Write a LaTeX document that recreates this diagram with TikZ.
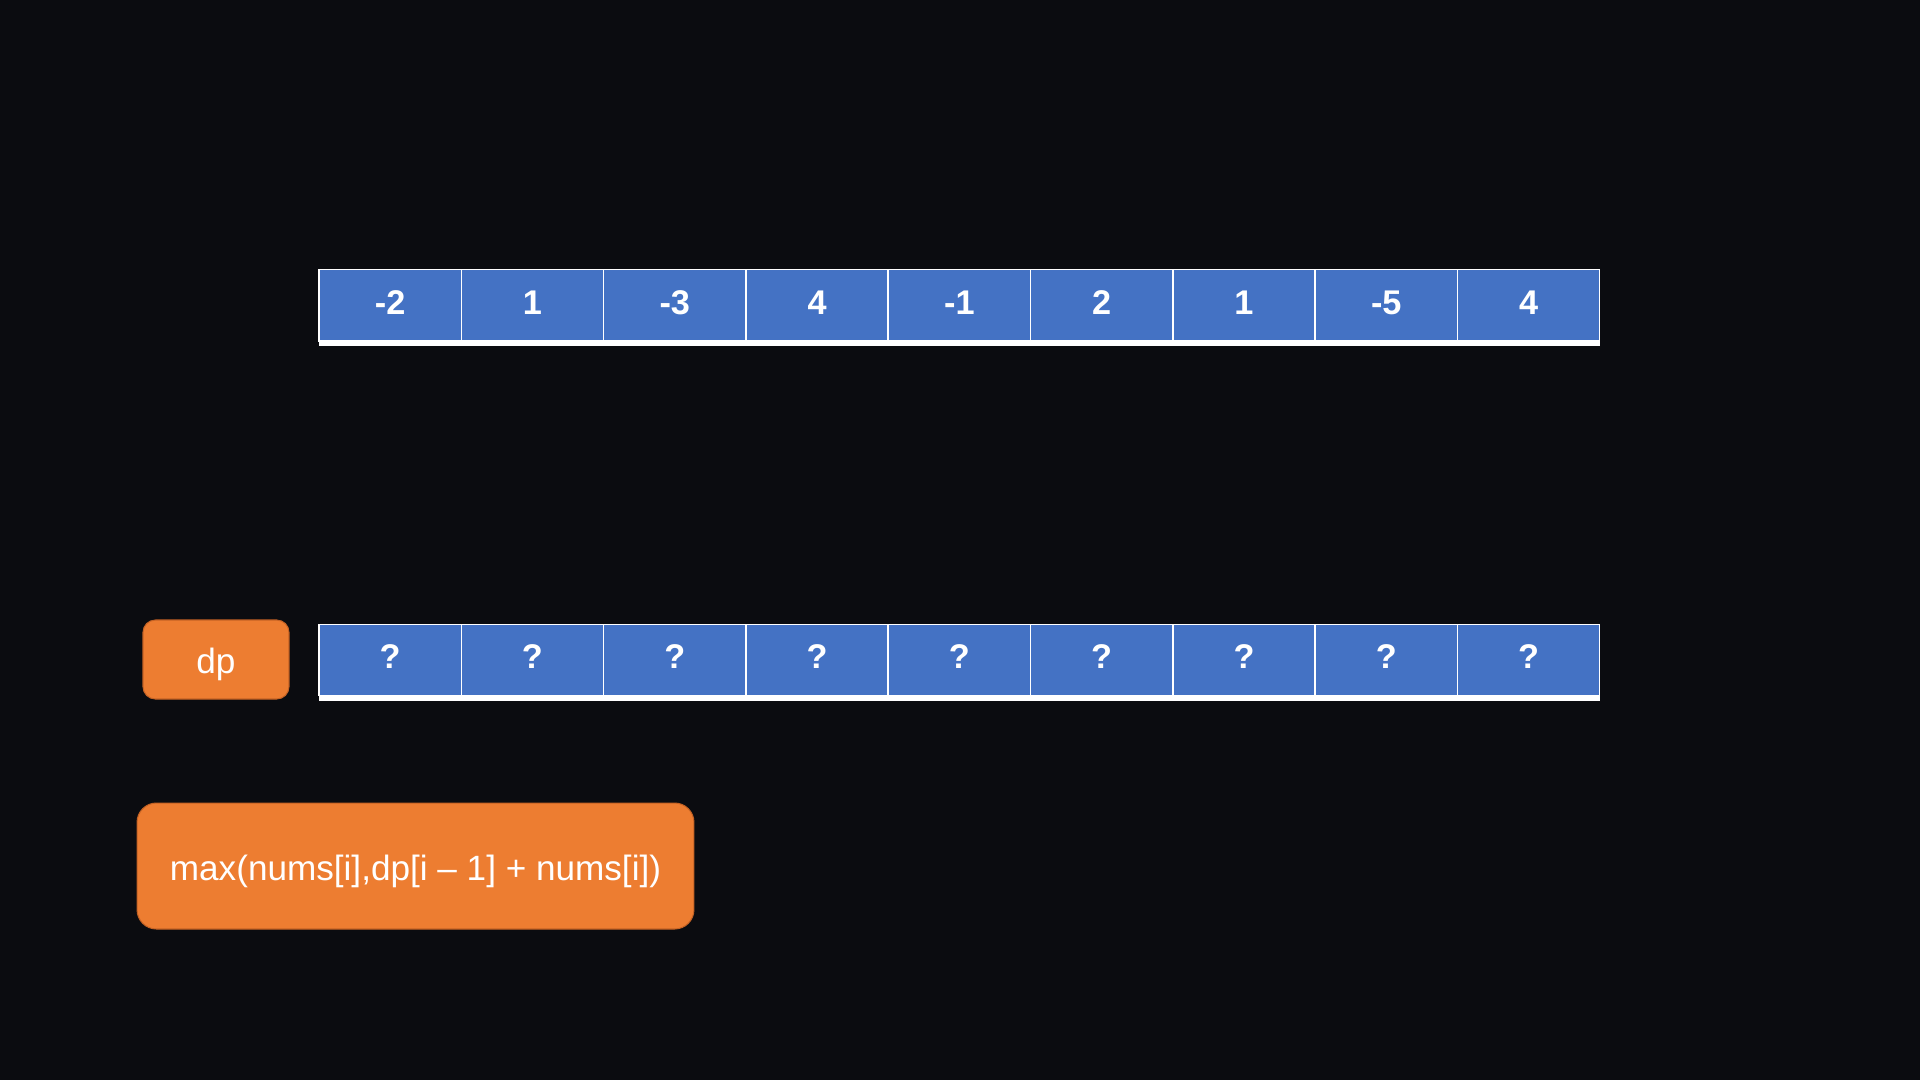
\documentclass[tikz,border=0pt]{standalone}
\usepackage{fontspec}
\setmainfont{Liberation Sans}
\usepackage{xcolor}
\usetikzlibrary{positioning}
\definecolor{bgblack}{RGB}{11,12,16}
\definecolor{cellblue}{RGB}{68,114,196}
\definecolor{boxorange}{RGB}{237,125,49}
\definecolor{edgeorange}{RGB}{196,98,36}

\begin{document}
\begin{tikzpicture}[x=0.02cm, y=-0.02cm,
  cell/.style={draw=white,line width=0.8pt,fill=cellblue,minimum width=2.846cm,minimum height=1.43cm,
    inner sep=0pt,outer sep=0pt,text=white,text height=14pt,text depth=4pt,
    font=\fontsize{19.5}{21}\selectfont\bfseries},
  tag/.style={draw=edgeorange,line width=0.6pt,fill=boxorange,inner sep=0pt,text=white,
    text height=20pt,text depth=4pt,font=\fontsize{20}{22}\selectfont},
  base/.style={draw=white,line width=3.4pt}]
 % canvas
 \fill[bgblack] (0,0) rectangle (1920,1080);
 % nums array
 \foreach \v [count=\k] in {-2,1,-3,4,-1,2,1,-5,4}
   \node[cell] (num\k) at ({319+142.3*(\k-0.5)},305.5) {\v};
 \draw[base] ([yshift=-1.2pt]num1.south west) -- ([yshift=-1.2pt]num9.south east);
 % dp array
 \node[tag,rounded corners=7pt,minimum width=2.92cm,minimum height=1.58cm] (dplabel) at (216,659.5) {dp};
 \foreach \k in {1,...,9}
   \node[cell] (dp\k) at ({319+142.3*(\k-0.5)},660) {?};
 \draw[base] ([yshift=-1.2pt]dp1.south west) -- ([yshift=-1.2pt]dp9.south east);
 % transition rule
 \node[tag,rounded corners=11pt,minimum width=11.14cm,minimum height=2.52cm] (rule) at (415.5,866)
   {max(nums[i],dp[i – 1] + nums[i])};
\end{tikzpicture}
\end{document}
